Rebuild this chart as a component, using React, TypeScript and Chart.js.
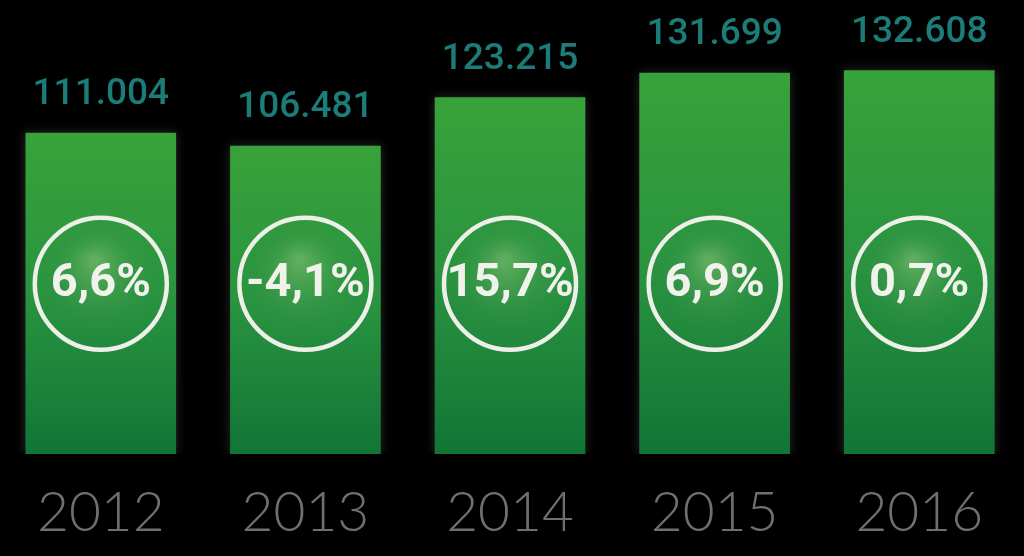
import { useEffect, useRef } from "react";
import { Chart, registerables } from "chart.js";

Chart.register(...registerables);

const years = ["2012", "2013", "2014", "2015", "2016"];
const values = [111.004, 106.481, 123.215, 131.699, 132.608];
const valueLabels = ["111.004", "106.481", "123.215", "131.699", "132.608"];
const growthLabels = ["6,6%", "-4,1%", "15,7%", "6,9%", "0,7%"];

const CIRCLE_LEVEL = 58.9;

const overlayPlugin = {
  id: "overlay",
  beforeDraw(chart: any) {
    const ctx = chart.ctx;
    ctx.save();
    ctx.fillStyle = "#000000";
    ctx.fillRect(0, 0, chart.width, chart.height);
    ctx.restore();
  },
  beforeDatasetsDraw(chart: any) {
    const ctx = chart.ctx;
    ctx.save();
    ctx.shadowColor = "rgba(90,90,90,0.45)";
    ctx.shadowBlur = 10;
  },
  afterDatasetsDraw(chart: any) {
    const ctx = chart.ctx;
    ctx.restore();
    const meta = chart.getDatasetMeta(0);
    const yScale = chart.scales.y;
    meta.data.forEach((el: any, i: number) => {
      const x = el.x;
      const top = el.y;
      ctx.save();
      // value label
      ctx.fillStyle = "#1b7c78";
      ctx.font = "500 37px Roboto";
      ctx.textAlign = "center";
      ctx.textBaseline = "alphabetic";
      ctx.fillText(valueLabels[i], x, top - 29);
      // circle
      const cy = yScale.getPixelForValue(CIRCLE_LEVEL);
      const r = 66;
      const g = ctx.createRadialGradient(x - 6, cy - 24, 3, x, cy, r);
      g.addColorStop(0, "rgba(130,190,115,0.6)");
      g.addColorStop(0.55, "rgba(70,155,80,0.25)");
      g.addColorStop(1, "rgba(30,130,55,0)");
      ctx.beginPath();
      ctx.arc(x, cy, r, 0, Math.PI * 2);
      ctx.fillStyle = g;
      ctx.fill();
      ctx.lineWidth = 4.5;
      ctx.strokeStyle = "#efefea";
      ctx.stroke();
      // growth label
      ctx.fillStyle = "#f2f2ec";
      ctx.font = "bold 47px Roboto";
      ctx.textBaseline = "middle";
      ctx.fillText(growthLabels[i], x, cy + 1);
      ctx.restore();
    });
  },
};

export default function App() {
  const ref = useRef<HTMLCanvasElement | null>(null);

  useEffect(() => {
    if (!ref.current) return;
    const chart = new Chart(ref.current, {
      type: "bar",
      data: {
        datasets: [
          {
            data: values.map((v, i) => ({ x: i, y: v })),
            barThickness: 150,
            borderWidth: 0,
            backgroundColor: (ctx: any) => {
              const c = ctx.chart;
              const ys = c.scales.y;
              if (!ys || ctx.dataIndex === undefined) return "#2a9a3c";
              const v = values[ctx.dataIndex];
              const top = ys.getPixelForValue(v);
              const bottom = ys.getPixelForValue(0);
              if (!isFinite(top) || !isFinite(bottom) || top === bottom) return "#2a9a3c";
              const g = c.ctx.createLinearGradient(0, top, 0, bottom);
              g.addColorStop(0, "#38a23a");
              g.addColorStop(0.5, "#2a9440");
              g.addColorStop(1, "#117536");
              return g;
            },
          },
        ],
      },
      options: {
        animation: false,
        responsive: false,
        devicePixelRatio: 1,
        layout: { padding: { left: 0, right: 0, top: 0, bottom: -16 } },
        plugins: {
          legend: { display: false },
          tooltip: { enabled: false },
        },
        scales: {
          x: {
            type: "linear",
            offset: false,
            min: -0.44,
            max: 4.512,
            grid: { display: false, drawTicks: false },
            border: { display: false },
            ticks: {
              stepSize: 1,
              includeBounds: false,
              autoSkip: false,
              maxRotation: 0,
              padding: 37,
              color: "#6f6f6f",
              font: { family: "Lato", size: 55, weight: 300, lineHeight: 0.8 },
              callback: (v: any) =>
                Number.isInteger(v) && years[v] !== undefined ? years[v] : "",
            },
          },
          y: {
            display: false,
            min: 0,
            max: 157,
          },
        },
      },
      plugins: [overlayPlugin],
    } as any);
    return () => chart.destroy();
  }, []);

  return (
    <div
      style={{
        position: "absolute",
        left: 0,
        top: 0,
        width: 1024,
        height: 556,
        background: "#000",
      }}
    >
      <canvas ref={ref} width={1024} height={556} />
    </div>
  );
}
